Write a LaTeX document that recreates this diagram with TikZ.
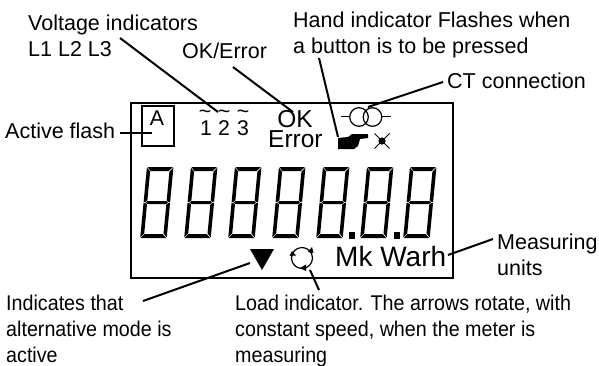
\documentclass[tikz,border=0pt]{standalone}
\usepackage{fontspec}
\setmainfont{Liberation Sans}
\newfontfamily\condfont[FakeStretch=0.925]{Liberation Sans}
\tikzset{
  lab/.style={anchor=base west,inner sep=0pt,align=left,font=\fontsize{21.5}{26}\selectfont},
  condlab/.style={lab,font=\condfont\fontsize{21.3}{26}\selectfont},
  lcd/.style={anchor=base,inner sep=0pt},
  leader/.style={line width=2pt},
  frame/.style={draw,line width=2pt},
  thinline/.style={line width=1pt},
  seg/.style={fill=black,draw=none},
  digitpic/.pic={
    \fill[seg] (0.5,0)--(26,0)--(22,4)--(4,4)--cycle;
    \fill[seg] (0.5,71)--(26,71)--(22,67)--(4,67)--cycle;
    \fill[seg] (2,35.5)--(4,34)--(22.5,34)--(24.5,35.5)--(22.5,37)--(4,37)--cycle;
    \fill[seg] (0,0.6)--(3.6,4.6)--(3.6,33.4)--(1.6,35)--(0,35)--cycle;
    \fill[seg] (0,36)--(1.6,36)--(3.6,37.6)--(3.6,66.4)--(0,70.4)--cycle;
    \fill[seg] (26.5,0.6)--(22.9,4.6)--(22.9,33.4)--(24.9,35)--(26.5,35)--cycle;
    \fill[seg] (26.5,36)--(24.9,36)--(22.9,37.6)--(22.9,66.4)--(26.5,70.4)--cycle;
  }
}
\begin{document}
\begin{tikzpicture}[x=1pt,y=-1pt]
\useasboundingbox (0,0) rectangle (599,365);
% labels (anchored on the baseline of the last line)
\node[lab] (volt) at (28,56) {Voltage indicators\\L1 L2 L3};
\node[lab] (okerr) at (182,58) {OK/Error};
\node[lab] (hand) at (293,53) {Hand indicator Flashes when\\a button is to be pressed};
\node[lab] (ct) at (447,88) {CT connection};
\node[lab] (active) at (5,138) {Active flash};
\node[condlab] (alt) at (6,362) {Indicates that\\alternative mode is\\active};
\node[condlab] (load) at (235,362) {Load indicator. The arrows rotate, with\\constant speed, when the meter is\\measuring};
\node[lab] (meas) at (497,275) {Measuring\\units};
% display
\node[frame,inner sep=0pt,minimum width=322pt,minimum height=175pt,anchor=north west] (lcdbox) at (130,102) {};
\node[frame,inner sep=0pt,minimum width=32pt,minimum height=40pt,anchor=north west] (abox) at (141,105) {};
\node[lcd,font=\fontsize{21.3}{24}\selectfont] (atxt) at (157,125) {A};
\node[lcd,font=\fontsize{21.3}{24}\selectfont] (n1) at (206,135) {1};
\node[lcd,font=\fontsize{21.3}{24}\selectfont] (n2) at (224,135) {2};
\node[lcd,font=\fontsize{21.3}{24}\selectfont] (n3) at (243,135) {3};
\node[lcd,font=\fontsize{21.3}{24}\selectfont] (t1) at (205,118) {\char`\~};
\node[lcd,font=\fontsize{21.3}{24}\selectfont] (t2) at (224,118) {\char`\~};
\node[lcd,font=\fontsize{21.3}{24}\selectfont] (t3) at (243,118) {\char`\~};
\node[lcd,font=\fontsize{24.5}{26}\selectfont] (oktxt) at (295,127) {OK};
\node[lab,font=\fontsize{24.5}{26}\selectfont] (errtxt) at (268,147) {Error};
\node[lab,font=\fontsize{28}{30}\selectfont] (units) at (335,266) {Mk Warh};
% CT symbol
\draw[thinline,line width=1.2pt] (359,117) circle (9.3) (372.5,117) circle (9.3);
\draw[thinline] (341,116) -- (350,116) (382,116) -- (391,116);
% hand
\fill (338,138) -- (348,137) -- (352,134) -- (368,134) -- (368,138) -- (360,139) -- (358,146) -- (354,149) -- (338,149) -- cycle;
% star
\fill (382,141) circle (3.6);
\draw[thinline] (374.5,133.5) -- (389.5,148.5) (374.5,148.5) -- (389.5,133.5);
% digits
\foreach \dx in {147,191,235,279,323,367,410}
  \path (\dx-6.8,238) pic[xslant=0.095,yscale=-1,yshift=0pt] {digitpic};
\fill (349,231.5) rectangle (355,238.5);
\fill (394,231.5) rectangle (400,238.5);
% triangle
\fill (250,249) -- (274,249) -- (262,270) -- cycle;
% rotation
\draw[line width=1.2pt] (302,258) circle (10.5);
\fill (300,268) -- (306,264.5) -- (306,271) -- cycle;
\fill (292,251) -- (289.5,256) -- (296,255.5) -- cycle;
\fill (313.5,253) -- (308,252) -- (312,247) -- cycle;
% connector ends
\coordinate (voltS) at (120,38); \coordinate (voltE) at (218,112);
\coordinate (okS) at (233,67); \coordinate (okE) at (293,112);
\coordinate (handS) at (319,58); \coordinate (handE) at (338,137);
\coordinate (ctS) at (443,82); \coordinate (ctE) at (368,107);
\coordinate (actS) at (120,133); \coordinate (actE) at (152,133);
\coordinate (altS) at (143,301); \coordinate (altE) at (250,263);
\coordinate (loadS) at (319,290); \coordinate (loadE) at (310,270);
\coordinate (measS) at (493,239); \coordinate (measE) at (448,255);
\foreach \a/\b in {voltS/voltE,okS/okE,handS/handE,ctS/ctE,actS/actE,altS/altE,loadS/loadE,measS/measE}
  \draw[leader] (\a) -- (\b);
\end{tikzpicture}
\end{document}
